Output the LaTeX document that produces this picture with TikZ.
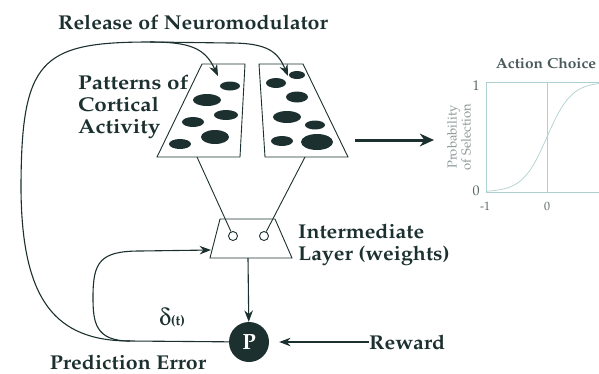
\documentclass[tikz,border=0pt]{standalone}
\usepackage[T1]{fontenc}
\usepackage{mathpazo}
\usepackage{pifont}
\usetikzlibrary{positioning, arrows.meta}
\definecolor{ink}{RGB}{28,48,48}
\definecolor{axis}{RGB}{175,208,208}
\definecolor{faint}{RGB}{140,152,152}
\newcommand{\wide}[1]{\scalebox{1.07}[1]{#1}}

\begin{document}
\begin{tikzpicture}[x=1pt, y=-1pt,
            lbl/.style = {font=\bfseries\fontsize{20}{22}\selectfont, text=ink, inner sep=0pt, align=left},
            line/.style = {draw=ink, line width=1.1pt},
            arrow/.style = {line, -{Stealth[length=4mm, width=3mm]}},
            blob/.style = {fill=ink, draw=none},
            unit/.style = {draw=ink, line width=0.9pt, circle, minimum size=9pt, inner sep=0pt},
            ]
            \clip (0,0) rectangle (599,373);

            % labels
            \node[lbl] (release) at (193,22) {\wide{Release of Neuromodulator}};
            \node[lbl, anchor=west] (patterns) at (78,107) {\scalebox{1.12}[1]{\begin{tabular}{@{}l@{}}Patterns of\\Cortical\\Activity\end{tabular}}};
            \node[lbl, anchor=west] (inter) at (298,245) {\wide{\begin{tabular}{@{}l@{}}Intermediate\\Layer (weights)\end{tabular}}};
            \node[lbl, anchor=west] (reward) at (369,342) {\wide{Reward}};
            \node[lbl] (prederr) at (128,362) {\wide{Prediction Error}};
            \node[text=ink, inner sep=0pt] (delta) at (172,318) {\fontsize{24}{24}\selectfont\Pisymbol{psy}{100}\fontsize{14}{14}\selectfont\textbf{(t)}};

            % cortical patterns
            \draw[line, line width=0.9pt] (202,64) -- (245,64) -- (240,157) -- (157,157) -- cycle;
            \draw[line, line width=0.9pt] (259,64) -- (303,64) -- (348,157) -- (265,157) -- cycle;
            \coordinate (cortL) at (197,157);
            \coordinate (cortR) at (305,157);
            \foreach \x/\y/\rx/\ry in {230/86/10/4.5, 207/100/14/6, 226/115/12/5, 193/122/11/5, 215/137/14/7, 180/144/11/5}
                \fill[blob] (\x,\y) ellipse[x radius=\rx, y radius=\ry];
            \foreach \x/\y/\rx/\ry in {297/75/8/4, 276/83/10/5, 297/97/11/5.5, 287/117/14/6, 315/125/10/4.5, 282/141/11/5, 317/142/16/8}
                \fill[blob] (\x,\y) ellipse[x radius=\rx, y radius=\ry];

            % intermediate layer
            \draw[line, line width=0.9pt] (220,219) -- (275,219) -- (292,258) -- (210,258) -- cycle;
            \node[unit] (u1) at (233,236) {};
            \node[unit] (u2) at (264,236) {};
            \coordinate (interin) at (211,250);
            \coordinate (interout) at (248,258);
            \draw[line, line width=0.9pt] (cortL) -- (u1);
            \draw[line, line width=0.9pt] (cortR) -- (u2);

            % prediction unit
            \node[circle, fill=ink, minimum size=40pt, inner sep=0pt, text=white,
                  font=\bfseries\fontsize{22}{22}\selectfont] (P) at (249,342) {P};
            \draw[arrow] (interout) -- (P);
            \draw[arrow, shorten >=10pt] (reward) -- (P);

            % error loops
            \coordinate (split) at (130,341);
            \coordinate (tipL) at (218,76);
            \coordinate (tipR) at (288,76);
            \draw[line] (P) -- (split);
            \draw[arrow] (split) .. controls (95,341) and (93,322) .. (93,297)
                .. controls (93,262) and (100,251) .. (140,251) -- (interin);
            \draw[line] (split) .. controls (55,341) and (22,300) .. (21,190)
                .. controls (21,60) and (40,42) .. (150,42) -- (230,43);
            \draw[arrow] (150,42) .. controls (190,42) and (205,48) .. (tipL);
            \draw[arrow] (230,43) .. controls (268,43) and (278,52) .. (tipR);

            % output
            \coordinate (outfrom) at (355,140);
            \coordinate (outto) at (434,140);
            \draw[line, line width=3pt, -{Stealth[length=5mm, width=4.5mm]}] (outfrom) -- (outto);

            % action choice plot
            \node[font=\bfseries\fontsize{14.5}{15}\selectfont, text=ink!80] (title) at (546,63) {\wide{Action Choice}};
            \draw[axis, line width=0.6pt] (486,82) -- (486,192) -- (610,192);
            \draw[axis, line width=0.5pt] (486,82) -- (610,82);
            \draw[axis, line width=0.5pt] (547,82) -- (547,192);
            \draw[axis, line width=0.7pt, domain=-1:1.2, samples=80, smooth]
                plot ({547+61*\x}, {192-110/(1+exp(-5*\x))});
            \node[font=\fontsize{14}{14}\selectfont, text=ink!75] (one) at (476,86) {1};
            \node[font=\fontsize{14}{14}\selectfont, text=ink!75] (zero) at (476,191) {0};
            \node[font=\fontsize{12}{12}\selectfont, text=ink!75] (xneg) at (485,206) {-1};
            \node[font=\fontsize{12}{12}\selectfont, text=ink!75] (xzero) at (547,206) {0};
            \node[font=\fontsize{13}{11}\selectfont, text=faint, align=center, rotate=90] (ylab) at (459,137) {Probability\\of Selection};
        \end{tikzpicture}
\end{document}
